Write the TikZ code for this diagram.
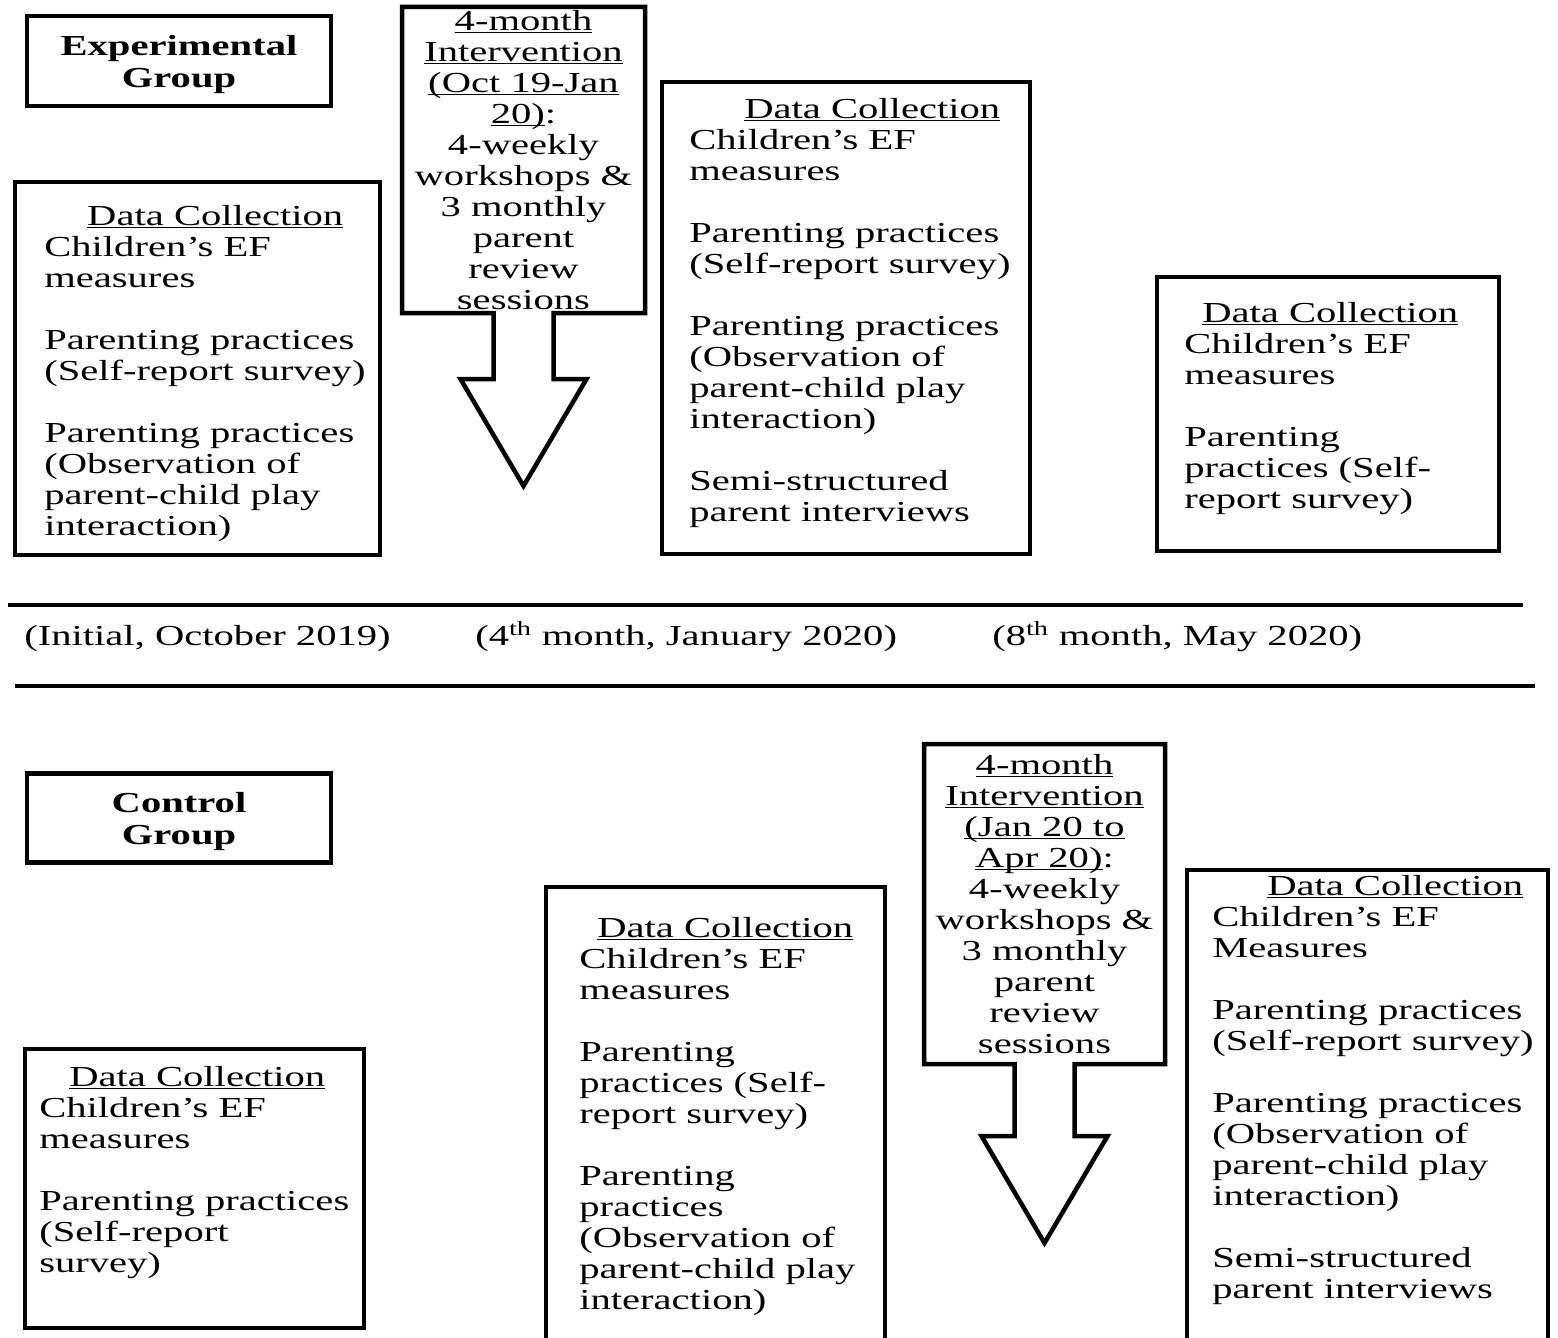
\documentclass[tikz,border=0pt]{standalone}
\usepackage{fontspec}
\setmainfont{Liberation Serif}[FakeStretch=1.4]
\usetikzlibrary{shapes.arrows}
\newcommand{\undl}[1]{\underline{\raisebox{0pt}[\height][0pt]{#1}}}
\tikzset{
frame/.style={draw, line width=4.5pt, inner sep=0pt, outer sep=0pt},
grouplab/.style={frame, minimum width=304pt, align=center, text depth=0pt},
dctext/.style={anchor=north west, align=left, inner sep=0pt},
intbox/.style={frame, shape=arrow box, align=center,
  arrow box shaft width=60pt, arrow box head extend=33pt, arrow box tip angle=61,
  arrow box north arrow=0pt, arrow box east arrow=0pt, arrow box west arrow=0pt},
stamp/.style={anchor=base west, inner sep=0pt}
}
\begin{document}
\begin{tikzpicture}
[x=1pt, y=-1pt, line width=4.5pt, font=\fontsize{29pt}{31pt}\selectfont]
\useasboundingbox (0,0) rectangle (1558,1338);
\clip (0,0) rectangle (1558,1338);
% group labels
\node[grouplab, minimum height=90pt] (expg) at (179,61)
{\bfseries Experimental\\[1pt]\bfseries Group};
\node[grouplab, minimum height=89pt] (ctrlg) at (179,818)
{\bfseries Control\\[1pt]\bfseries Group};
% data collection frames
\foreach \nm/\x/\y/\w/\h in {pre/15/182/365/373, post/662/82/368/472,
  follow/1157/277/342/274, cpre/25/1049/339/279, cpost/546/887/339/460,
  cfollow/1187/870/361/477}{
\node[frame, anchor=north west, minimum width=\w pt, minimum height=\h pt] (\nm) at (\x,\y) {};
}
\node[dctext] (pre-t) at (42,203) {\hspace*{43pt}\undl{Data Collection}\\
Children’s EF\\measures\\[31pt]
Parenting practices\\(Self-report survey)\\[31pt]
Parenting practices\\(Observation of\\parent-child play\\interaction)};
\node[dctext] (post-t) at (687,96) {\hspace*{55pt}\undl{Data Collection}\\
Children’s EF\\measures\\[31pt]
Parenting practices\\(Self-report survey)\\[31pt]
Parenting practices\\(Observation of\\parent-child play\\interaction)\\[31pt]
Semi-structured\\parent interviews};
\node[dctext] (follow-t) at (1182,300) {\hspace*{18pt}\undl{Data Collection}\\
Children’s EF\\measures\\[31pt]
Parenting\\practices (Self-\\report survey)};
\node[dctext] (cpre-t) at (37,1064) {\hspace*{30pt}\undl{Data Collection}\\
Children’s EF\\measures\\[31pt]
Parenting practices\\(Self-report\\survey)};
\node[dctext] (cpost-t) at (577,915) {\hspace*{18pt}\undl{Data Collection}\\
Children’s EF\\measures\\[31pt]
Parenting\\practices (Self-\\report survey)\\[31pt]
Parenting\\practices\\(Observation of\\parent-child play\\interaction)};
\node[dctext] (cfollow-t) at (1210,873) {\hspace*{55pt}\undl{Data Collection}\\
Children’s EF\\Measures\\[31pt]
Parenting practices\\(Self-report survey)\\[31pt]
Parenting practices\\(Observation of\\parent-child play\\interaction)\\[31pt]
Semi-structured\\parent interviews};
% interventions
\node[intbox, minimum width=243pt, minimum height=306pt, arrow box south arrow=173pt]
(intA) at (523.5,160) {\undl{4-month}\\\undl{Intervention}\\\undl{(Oct 19-Jan}\\\undl{20)}:\\
4-weekly\\workshops \&\\3 monthly\\parent\\review\\sessions};
\node[intbox, minimum width=241pt, minimum height=320pt, arrow box south arrow=179pt]
(intB) at (1044.5,904) {\undl{4-month}\\\undl{Intervention}\\\undl{(Jan 20 to}\\\undl{Apr 20)}:\\
4-weekly\\workshops \&\\3 monthly\\parent\\review\\sessions};
% timeline
\draw (8,605) -- (1523,605);
\draw (15,686) -- (1535,686);
\node[stamp] (t0) at (22,645) {(Initial, October 2019)};
\node[stamp] (t4) at (473,645) {(4\textsuperscript{th} month, January 2020)};
\node[stamp] (t8) at (990,645) {(8\textsuperscript{th} month, May 2020)};
%\draw[step=50, thin] (0,0) grid (1558,1338);
\end{tikzpicture}
\end{document}
